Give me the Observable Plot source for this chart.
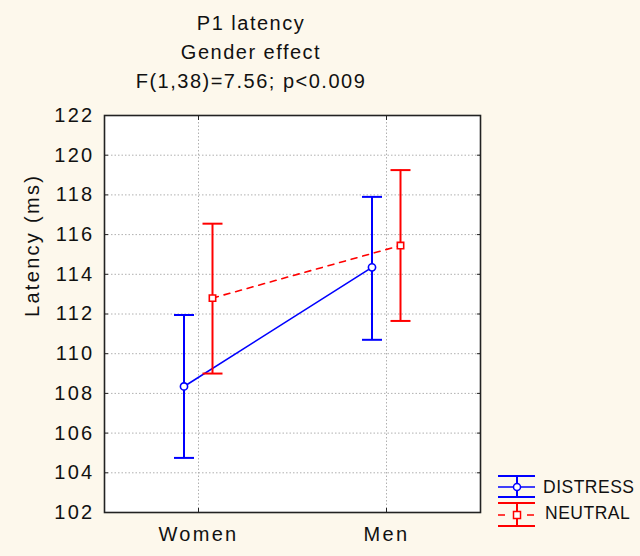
<!DOCTYPE html>
<html>
<head>
<meta charset="utf-8">
<script src="https://cdn.jsdelivr.net/npm/d3@7"></script>
<script src="https://cdn.jsdelivr.net/npm/@observablehq/plot@0.6"></script>
<style>
  html, body { margin: 0; padding: 0; background: #fdf8ec; }
  #wrap { position: relative; width: 640px; height: 556px; background: #fdf8ec; font-family: "Liberation Sans", Arial, sans-serif; color: #111; overflow: hidden; }
  #title { position: absolute; left: 0; top: 9px; width: 502px; text-align: center; font-size: 20px; line-height: 29px; letter-spacing: 1.5px; }
  #chart { position: absolute; left: 0; top: 95px; }
  #chart svg text { letter-spacing: 2.3px; }
  #legend { position: absolute; left: 490px; top: 465px; }
</style>
</head>
<body>
<div id="wrap">
  <div id="title">P1 latency<br>Gender effect<br>F(1,38)=7.56; p&lt;0.009</div>
  <div id="chart"></div>
  <svg id="legend" width="150" height="70" font-family="Liberation Sans, Arial, sans-serif" font-size="17.5" fill="#111">
    <g stroke="#0000ff" stroke-width="2" fill="none">
      <line x1="8" x2="45" y1="11" y2="11"/>
      <line x1="8" x2="45" y1="32" y2="32"/>
      <line x1="27" x2="27" y1="11" y2="32"/>
      <line x1="8" x2="45" y1="22" y2="22" stroke-width="1.5"/>
      <circle cx="27" cy="22" r="3.5" fill="white" stroke-width="1.5"/>
    </g>
    <text x="53" y="27.5" letter-spacing="0.5">DISTRESS</text>
    <g stroke="#ff0000" stroke-width="2" fill="none">
      <line x1="8" x2="45" y1="38" y2="38"/>
      <line x1="8" x2="45" y1="61" y2="61"/>
      <line x1="27" x2="27" y1="38" y2="61"/>
      <line x1="8" x2="15" y1="50" y2="50" stroke-width="1.5"/>
      <line x1="37" x2="44" y1="50" y2="50" stroke-width="1.5"/>
      <rect x="23.5" y="46.5" width="7" height="7" fill="white" stroke-width="1.5"/>
    </g>
    <text x="55" y="53.5" letter-spacing="0.5">NEUTRAL</text>
  </svg>
</div>
<script>
// ---- data ----
const genders = ["Women", "Men"];
const seriesNames = ["DISTRESS", "NEUTRAL"];
const distressMean = [108.35, 114.35];
const distressLow = [104.75, 110.7];
const distressHigh = [111.95, 117.9];
const neutralMean = [112.8, 115.45];
const neutralLow = [109.0, 111.65];
const neutralHigh = [116.55, 119.25];
const yTicks = [102, 104, 106, 108, 110, 112, 114, 116, 118, 120, 122];

// ---- build ----
const seriesData = {
  DISTRESS: genders.map((g, i) => ({gender: g, mean: distressMean[i], lo: distressLow[i], hi: distressHigh[i]})),
  NEUTRAL: genders.map((g, i) => ({gender: g, mean: neutralMean[i], lo: neutralLow[i], hi: neutralHigh[i]}))
};
const styles = {
  DISTRESS: {color: "#0000ff", dx: -14.5, dash: null, symbol: "circle"},
  NEUTRAL: {color: "#ff0000", dx: 14, dash: "6,6", symbol: "square"}
};
const hline = {
  draw(ctx, size) {
    const r = Math.sqrt(size / Math.PI);
    ctx.moveTo(-r, 0);
    ctx.lineTo(r, 0);
  }
};

const seriesMarks = seriesNames.flatMap((name) => {
  const d = seriesData[name];
  const s = styles[name];
  return [
    Plot.line(d, {x: "gender", y: "mean", dx: s.dx, stroke: s.color, strokeWidth: 1.6, strokeDasharray: s.dash}),
    Plot.ruleX(d, {x: "gender", y1: "lo", y2: "hi", dx: s.dx, stroke: s.color, strokeWidth: 2}),
    Plot.dot(d, {x: "gender", y: "hi", dx: s.dx, symbol: hline, r: 10, stroke: s.color, strokeWidth: 2, fill: "none"}),
    Plot.dot(d, {x: "gender", y: "lo", dx: s.dx, symbol: hline, r: 10, stroke: s.color, strokeWidth: 2, fill: "none"}),
    Plot.dot(d, {x: "gender", y: "mean", dx: s.dx, symbol: s.symbol, r: 3.6, fill: "white", stroke: s.color, strokeWidth: 1.6})
  ];
});

const chart = Plot.plot({
  width: 640,
  height: 461,
  marginTop: 20,
  marginBottom: 44,
  marginLeft: 104,
  marginRight: 160,
  style: {background: "transparent", fontFamily: "Liberation Sans, Arial, sans-serif", fontSize: "20px", color: "#111", overflow: "visible"},
  x: {type: "point", domain: genders, padding: 0.5, label: null},
  y: {domain: [102, 122], label: null},
  marks: [
    Plot.frame({fill: "white", stroke: null}),
    Plot.gridY(yTicks, {stroke: "#b0b0b0", strokeOpacity: 1, strokeDasharray: "1.5,2"}),
    Plot.gridX(genders, {stroke: "#b0b0b0", strokeOpacity: 1, strokeDasharray: "1.5,2"}),
    ...seriesMarks,
    Plot.axisY(yTicks, {tickSize: -4, tickPadding: 14, stroke: "#222", label: null}),
    Plot.axisY(yTicks, {anchor: "right", tickSize: -4, tickFormat: () => "", stroke: "#222", label: null}),
    Plot.axisX(genders, {tickSize: -4, tickPadding: 18, stroke: "#222", label: null}),
    Plot.axisX(genders, {anchor: "top", tickSize: -4, tickFormat: () => "", stroke: "#222", label: null}),
    Plot.text(["Latency (ms)"], {frameAnchor: "left", rotate: -90, dx: -72, dy: 3, fontSize: 20}),
    Plot.frame({stroke: "#222", strokeWidth: 1.6})
  ]
});
document.getElementById("chart").appendChild(chart);
</script>
</body>
</html>
